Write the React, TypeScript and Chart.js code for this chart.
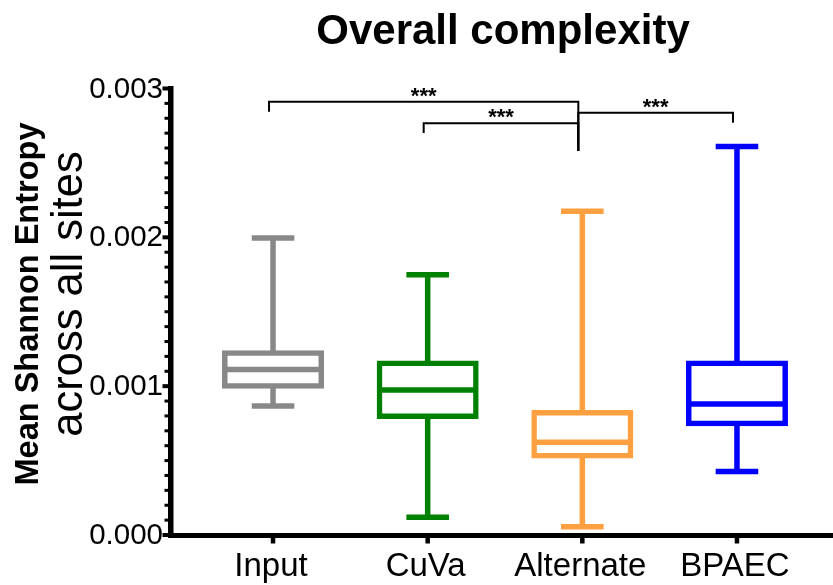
import React, { useEffect, useRef } from 'react';
import { Chart, registerables } from 'chart.js';

Chart.register(...registerables);

// ---------- data ----------
const chartTitle = 'Overall complexity';
const yTitleBold = 'Mean Shannon Entropy';
const yTitleRegular = 'across all sites';
const categories = ['Input', 'CuVa', 'Alternate', 'BPAEC'];
const colors = ['#888888', '#008000', '#ffa040', '#0000ff'];
const minValues = [0.000866, 0.00012, 0.000056, 0.000426];
const q1Values = [0.001, 0.000796, 0.000531, 0.000748];
const medianValues = [0.001112, 0.000974, 0.000623, 0.000881];
const q3Values = [0.001224, 0.001155, 0.000823, 0.001155];
const maxValues = [0.001996, 0.001749, 0.002175, 0.002611];
const yTickValues = [0, 0.001, 0.002, 0.003];
const yTickLabels = ['0.000', '0.001', '0.002', '0.003'];
const yMinorStep = 0.0001;
const compFrom = [0, 1, 2];
const compTo = [2, 2, 3];
const compLevel = [0.002911, 0.002766, 0.002837];
const compFromEnd = [0.002844, 0.002701, 0.00258];
const compToEnd = [0.00258, 0.00258, 0.00277];
const compLabels = ['***', '***', '***'];

const FONT = "'Liberation Sans', Arial, Helvetica, sans-serif";

function drawText(
  ctx: CanvasRenderingContext2D,
  text: string,
  x: number,
  y: number,
  font: string,
  align: CanvasTextAlign,
  baseline: CanvasTextBaseline,
  rotated = false
) {
  ctx.save();
  ctx.font = font;
  ctx.translate(x, y);
  if (rotated) ctx.rotate(-Math.PI / 2);
  ctx.textAlign = align;
  ctx.textBaseline = baseline;
  ctx.fillStyle = '#000';
  ctx.fillText(text, 0, 0);
  ctx.restore();
}

const decorPlugin = {
  id: 'boxDecor',
  afterDatasetsDraw(chart: any) {
    const ctx: CanvasRenderingContext2D = chart.ctx;
    const xs = chart.scales.x;
    const ys = chart.scales.y;
    categories.forEach((_c, i) => {
      const x = xs.getPixelForValue(i);
      ctx.save();
      ctx.strokeStyle = colors[i];
      ctx.lineWidth = 5.5;
      ctx.lineCap = 'butt';
      [minValues[i], maxValues[i]].forEach((v) => {
        const y = ys.getPixelForValue(v);
        ctx.beginPath();
        ctx.moveTo(x - 21.3, y);
        ctx.lineTo(x + 21.3, y);
        ctx.stroke();
      });
      const ym = ys.getPixelForValue(medianValues[i]);
      ctx.beginPath();
      ctx.moveTo(x - 48.5, ym);
      ctx.lineTo(x + 48.5, ym);
      ctx.stroke();
      ctx.restore();
    });
  },
  afterDraw(chart: any) {
    const ctx: CanvasRenderingContext2D = chart.ctx;
    const xs = chart.scales.x;
    const ys = chart.scales.y;
    const area = chart.chartArea;
    const axisX = area.left;
    const axisY = area.bottom;
    ctx.save();
    ctx.strokeStyle = '#000';
    ctx.lineCap = 'butt';
    // minor y ticks
    ctx.lineWidth = 3;
    for (let k = 1; k < 30; k++) {
      if (k % 10 === 0) continue;
      const y = ys.getPixelForValue(k * yMinorStep);
      ctx.beginPath();
      ctx.moveTo(axisX - 6, y);
      ctx.lineTo(axisX, y);
      ctx.stroke();
    }
    // major y ticks
    ctx.lineWidth = 4;
    yTickValues.forEach((v) => {
      const y = ys.getPixelForValue(v);
      ctx.beginPath();
      ctx.moveTo(axisX - 8, y);
      ctx.lineTo(axisX, y);
      ctx.stroke();
    });
    // x ticks
    ctx.lineWidth = 4.5;
    categories.forEach((_c, i) => {
      const x = xs.getPixelForValue(i);
      ctx.beginPath();
      ctx.moveTo(x, axisY);
      ctx.lineTo(x, axisY + 8.5);
      ctx.stroke();
    });
    // comparison brackets
    ctx.lineWidth = 2;
    compFrom.forEach((f, j) => {
      const x1 = xs.getPixelForValue(f) - 4;
      const x2 = xs.getPixelForValue(compTo[j]) - 4;
      const y = ys.getPixelForValue(compLevel[j]);
      ctx.beginPath();
      ctx.moveTo(x1, ys.getPixelForValue(compFromEnd[j]));
      ctx.lineTo(x1, y);
      ctx.lineTo(x2, y);
      ctx.lineTo(x2, ys.getPixelForValue(compToEnd[j]));
      ctx.stroke();
      drawText(ctx, compLabels[j], (x1 + x2) / 2, y + 1, `bold 22px ${FONT}`, 'center', 'alphabetic');
    });
    ctx.restore();

    // y tick labels
    yTickValues.forEach((v, i) => {
      const y = ys.getPixelForValue(v);
      drawText(ctx, yTickLabels[i], axisX - 7.5, y + 1, `29.5px ${FONT}`, 'right', 'middle');
    });
    // x labels
    categories.forEach((c, i) => {
      const x = xs.getPixelForValue(i);
      drawText(ctx, c, x - 2, 576, `33px ${FONT}`, 'center', 'alphabetic');
    });
    // title
    drawText(ctx, chartTitle, 503, 44, `bold 42px ${FONT}`, 'center', 'alphabetic');
    // y axis titles
    drawText(ctx, yTitleBold, 38, 304, `bold 32.5px ${FONT}`, 'center', 'alphabetic', true);
    drawText(ctx, yTitleRegular, 82, 294, `43.5px ${FONT}`, 'center', 'alphabetic', true);
  },
};

export default function App() {
  const canvasRef = useRef<HTMLCanvasElement | null>(null);

  useEffect(() => {
    if (!canvasRef.current) return;
    const boxData = categories.map((_c, i) => ({ x: i, y: [q1Values[i], q3Values[i]] }));
    const lowData = categories.map((_c, i) => ({ x: i, y: [minValues[i], q1Values[i]] }));
    const highData = categories.map((_c, i) => ({ x: i, y: [q3Values[i], maxValues[i]] }));
    const chart = new Chart(canvasRef.current, {
      type: 'bar',
      data: {
        datasets: [
          {
            label: 'box',
            data: boxData as any,
            backgroundColor: 'rgba(0,0,0,0)',
            borderColor: colors,
            borderWidth: 0.5,
            inflateAmount: 2.5,
            borderSkipped: false,
            barThickness: 97,
            grouped: false,
          } as any,
          {
            label: 'lower whisker',
            data: lowData as any,
            backgroundColor: colors,
            borderWidth: 0,
            inflateAmount: 0,
            barThickness: 5.5,
            grouped: false,
          } as any,
          {
            label: 'upper whisker',
            data: highData as any,
            backgroundColor: colors,
            borderWidth: 0,
            inflateAmount: 0,
            barThickness: 5.5,
            grouped: false,
          } as any,
        ],
      },
      options: {
        animation: false,
        responsive: true,
        maintainAspectRatio: false,
        layout: { padding: { left: 170.5, right: 0, top: 88.5, bottom: 50 } },
        plugins: {
          legend: { display: false },
          tooltip: { enabled: false },
          title: { display: false },
        },
        scales: {
          x: {
            type: 'linear',
            offset: false,
            min: -0.663,
            max: 3.621,
            grid: { display: false, drawTicks: false, offset: false },
            border: { display: true, color: '#000', width: 5 },
            ticks: { display: false },
          },
          y: {
            type: 'linear',
            min: 0,
            max: 0.003,
            grid: { display: false, drawTicks: false },
            border: { display: true, color: '#000', width: 5.5 },
            ticks: { display: false },
          },
        },
      },
      plugins: [decorPlugin],
    });
    return () => chart.destroy();
  }, []);

  return (
    <div style={{ position: 'absolute', left: 0, top: 0, width: 833, height: 585, background: '#fff' }}>
      <canvas ref={canvasRef} />
    </div>
  );
}
